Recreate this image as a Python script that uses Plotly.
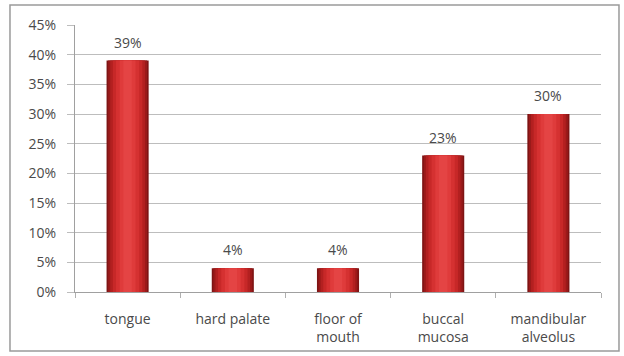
import plotly.graph_objects as go

# Distribution of lesion sites
sites = ["tongue", "hard palate", "floor of<br>mouth", "buccal<br>mucosa", "mandibular<br>alveolus"]
shares = [39, 4, 4, 23, 30]
y_ticks = [0, 5, 10, 15, 20, 25, 30, 35, 40, 45]
y_tick_text = [f"{v}%" for v in y_ticks]

FONT = "Open Sans"
TEXT_COLOR = "#4a4a4a"

fig = go.Figure()

# Layered bars of decreasing width give a rounded, shaded column look
shades = [
    (0.40, "#7e1414"),
    (0.37, "#9a1a1a"),
    (0.33, "#b32020"),
    (0.28, "#c72828"),
    (0.22, "#d53131"),
    (0.15, "#df3b3b"),
    (0.08, "#e44444"),
]
for width, color in shades:
    fig.add_trace(go.Bar(
        x=sites, y=shares, width=width,
        marker=dict(color=color, line=dict(width=0)),
        hoverinfo="skip", showlegend=False,
    ))

# Value labels above each column
for site, value in zip(sites, shares):
    fig.add_annotation(
        x=site, y=value, text=f"{value}%", showarrow=False,
        yanchor="bottom", yshift=7,
        font=dict(family=FONT, size=14, color=TEXT_COLOR),
    )

fig.update_layout(
    width=624, height=356,
    margin=dict(l=75, r=23, t=25, b=64, autoexpand=False),
    paper_bgcolor="white", plot_bgcolor="white",
    barmode="overlay",
    font=dict(family=FONT, size=13, color=TEXT_COLOR),
    shapes=[dict(
        type="rect", xref="paper", yref="paper",
        x0=-0.1236, x1=1.0342, y0=-0.221, y1=1.0749,
        line=dict(color="#9a9a9a", width=1.5), fillcolor="rgba(0,0,0,0)",
        layer="below",
    )],
)

fig.update_xaxes(
    showgrid=False, showline=True, linecolor="#a0a0a0", linewidth=1,
    ticks="outside", tickson="boundaries", ticklen=5, tickcolor="#b0b0b0",
    ticklabelstandoff=14, automargin=False,
    tickfont=dict(family=FONT, size=14, color=TEXT_COLOR),
    fixedrange=True,
)
fig.update_yaxes(
    range=[0, 45], tickvals=y_ticks, ticktext=y_tick_text,
    showgrid=True, gridcolor="#bdbdbd", gridwidth=1,
    showline=True, linecolor="#a0a0a0", linewidth=1,
    ticks="outside", ticklen=7, tickcolor="#bdbdbd",
    ticklabelstandoff=8, automargin=False,
    tickfont=dict(family=FONT, size=14, color=TEXT_COLOR),
    zeroline=False, fixedrange=True,
)

fig.write_html("out.html")
